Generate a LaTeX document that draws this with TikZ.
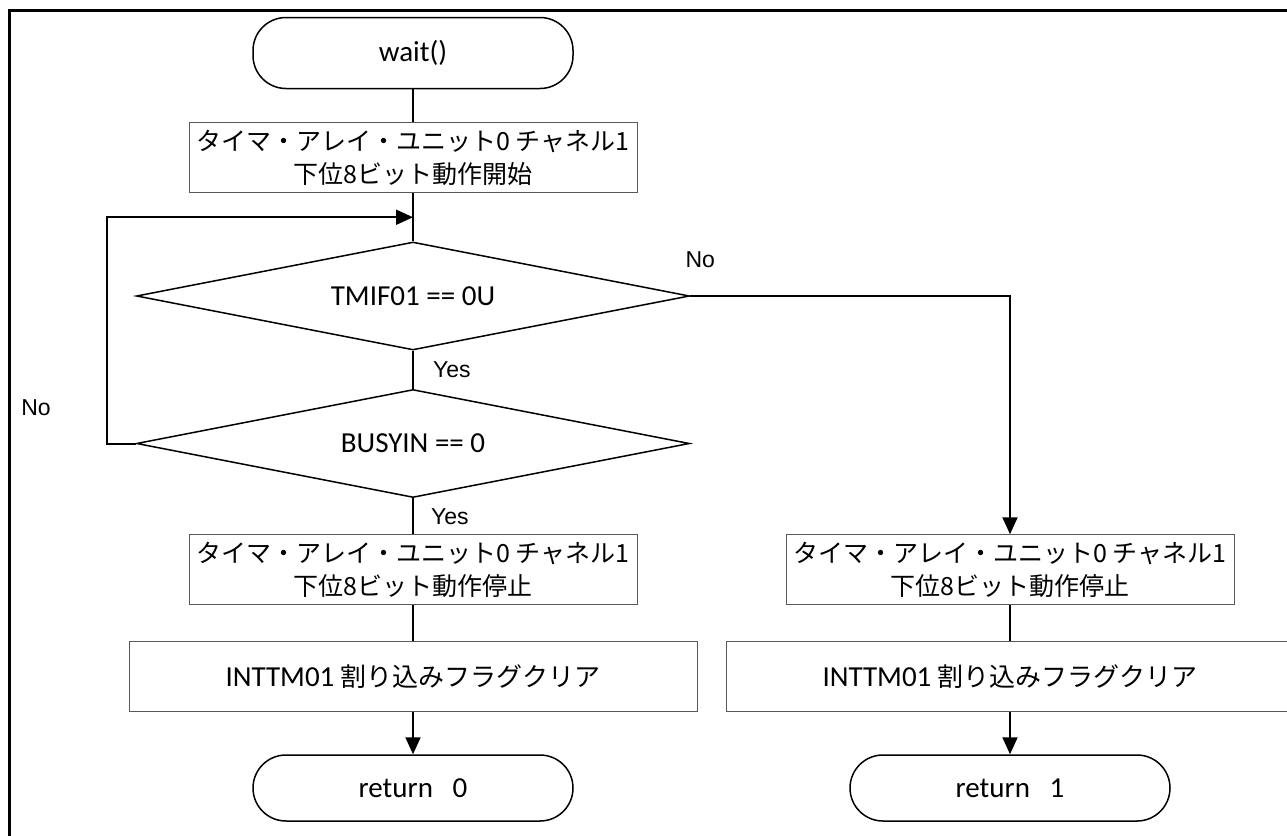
\documentclass[tikz,border=0pt]{standalone}
\usepackage{fontspec}
\setmainfont{Carlito}
\newfontfamily\jpfont{Noto Sans CJK JP}
\newfontfamily\lblfont{Liberation Sans}
\usetikzlibrary{shapes.geometric,positioning,arrows.meta,calc}

\begin{document}
\begin{tikzpicture}[x=1pt, y=-1pt,
	term/.style = {draw, line width=1.5pt, rounded corners=33pt, minimum width=320pt, minimum height=71pt, font=\fontsize{29}{34}\selectfont},
	proc/.style = {draw=black!65, line width=1pt, minimum width=448pt, minimum height=70pt, inner sep=3pt, align=center, font=\jpfont\fontsize{25}{33}\selectfont},
	wide/.style = {proc, minimum width=568pt, font=\fontsize{29}{34}\selectfont},
	cond/.style = {draw, diamond, shape aspect=5, line width=1.5pt, minimum width=553pt, minimum height=108pt, inner sep=0pt, font=\fontsize{29}{34}\selectfont},
	lbl/.style = {inner sep=1pt, font=\lblfont\fontsize{23}{27}\selectfont},
	conn/.style = {line width=2pt},
	arr/.style = {conn, -{Triangle[length=17pt,width=15pt]}}]
		\useasboundingbox (0,0) rectangle (1287,835);
		\draw[line width=3pt] (9,10) rectangle (1300,850);

		\node[term] (start) at (413,53) {wait()};
		\node[proc] (init) [below=33pt of start] {タイマ・アレイ・ユニット0 チャネル1\\下位8ビット動作開始};
		\node[cond] (tmif) [below=48pt of init] {TMIF01 == 0U};
		\node[cond] (busy) [below=38pt of tmif] {BUSYIN == 0};
		\node[proc] (stop0) [below=36pt of busy] {タイマ・アレイ・ユニット0 チャネル1\\下位8ビット動作停止};
		\node[wide] (clr0) [below=36pt of stop0] {INTTM01 {\jpfont\fontsize{26}{30}\selectfont 割り込みフラグクリア}};
		\node[term, minimum height=66pt] (ret0) [below=42pt of clr0] {return\ \ \ 0};
		\node[proc] (stop1) [right=148pt of stop0] {タイマ・アレイ・ユニット0 チャネル1\\下位8ビット動作停止};
		\node[wide] (clr1) [below=36pt of stop1] {INTTM01 {\jpfont\fontsize{26}{30}\selectfont 割り込みフラグクリア}};
		\node[term, minimum height=66pt] (ret1) [below=42pt of clr1] {return\ \ \ 1};
		\coordinate (join) at ($(init.south)!0.5!(tmif.north)$);

		\draw[conn] (start) -- (init);
		\draw[conn] (init) -- (tmif);
		\draw[conn] (tmif) -- node[lbl, right=18pt] {Yes} (busy);
		\draw[conn] (busy) -- node[lbl, right=16pt] {Yes} (stop0);
		\draw[conn] (stop0) -- (clr0);
		\draw[arr] (clr0) -- (ret0);
		\draw[arr] (busy.west) -- ++(-29,0) |- node[lbl, pos=0.08, left=54pt] {No} (join);
		\draw[arr] (tmif.east) node[lbl, anchor=south, xshift=10pt, yshift=26pt] {No} -| (stop1.north);
		\draw[conn] (stop1) -- (clr1);
		\draw[arr] (clr1) -- (ret1);
	\end{tikzpicture}
\end{document}
